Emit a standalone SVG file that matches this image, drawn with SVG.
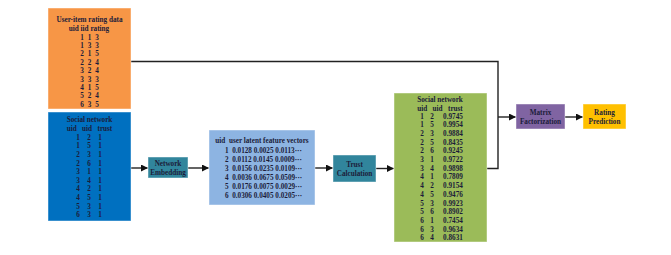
<svg xmlns="http://www.w3.org/2000/svg" width="671" height="255" viewBox="0 0 671 255">
  <style>
    text { font-family: "Liberation Serif", "Times New Roman", serif; font-weight: bold; font-size: 7.2px; fill: #1c1c3a; text-anchor: middle; white-space: pre; }
    .l { text-anchor: start; }
    .box { stroke: #ffffff; stroke-opacity: 0.45; stroke-width: 1; }
    .orange { fill: #F79646; }
    .blue { fill: #0070C0; }
    .sky { fill: #8DB4E2; }
    .green { fill: #9BBB59; }
    .teal { fill: #31859C; }
    .purple { fill: #8064A2; }
    .yellow { fill: #FFC000; }
    .wire { fill: none; stroke: #222222; stroke-width: 1.4; }
  </style>
  <defs>
    <marker id="arrow" markerUnits="userSpaceOnUse" markerWidth="7" markerHeight="7" refX="6.5" refY="3.5" orient="auto">
      <path d="M0,0 L7,3.5 L0,7 Z" fill="#111111"/>
    </marker>
  </defs>
  <rect width="671" height="255" fill="#ffffff"/>

  <!-- connectors -->
  <g id="connectors">
    <path class="wire" d="M131,61.5 H498 V168.5 H487"/>
    <path class="wire" d="M498,117 H515.5" marker-end="url(#arrow)"/>
    <path class="wire" d="M131,168 H147.5" marker-end="url(#arrow)"/>
    <path class="wire" d="M188,168 H208.5" marker-end="url(#arrow)"/>
    <path class="wire" d="M315,168 H332.5" marker-end="url(#arrow)"/>
    <path class="wire" d="M376,168.5 H393.5" marker-end="url(#arrow)"/>
    <path class="wire" d="M565,117 H582.5" marker-end="url(#arrow)"/>
  </g>

  <!-- rating data table -->
  <g id="rating-data">
    <rect class="box orange" x="48" y="8" width="83" height="101"/>
    <text x="89.5" y="21.5">User-item rating data</text>
    <text x="89" y="30.5">uid iid rating</text>
    <g>
      <text x="82" y="39.5">1</text><text x="89.5" y="39.5">1</text><text x="97" y="39.5">3</text>
      <text x="82" y="47.9">1</text><text x="89.5" y="47.9">3</text><text x="97" y="47.9">3</text>
      <text x="82" y="56.3">2</text><text x="89.5" y="56.3">1</text><text x="97" y="56.3">5</text>
      <text x="82" y="64.7">2</text><text x="89.5" y="64.7">2</text><text x="97" y="64.7">4</text>
      <text x="82" y="73.1">3</text><text x="89.5" y="73.1">2</text><text x="97" y="73.1">4</text>
      <text x="82" y="81.5">3</text><text x="89.5" y="81.5">3</text><text x="97" y="81.5">3</text>
      <text x="82" y="89.9">4</text><text x="89.5" y="89.9">1</text><text x="97" y="89.9">5</text>
      <text x="82" y="98.3">5</text><text x="89.5" y="98.3">2</text><text x="97" y="98.3">4</text>
      <text x="82" y="106.7">6</text><text x="89.5" y="106.7">3</text><text x="97" y="106.7">5</text>
    </g>
  </g>

  <!-- binary social network -->
  <g id="social-network">
    <rect class="box blue" x="48" y="112" width="83" height="109"/>
    <text x="89.5" y="121.5">Social network</text>
    <text x="89.5" y="130.5">uid   uid   trust</text>
    <g>
      <text x="78" y="139.5">1</text><text x="89" y="139.5">2</text><text x="100" y="139.5">1</text>
      <text x="78" y="148.2">1</text><text x="89" y="148.2">5</text><text x="100" y="148.2">1</text>
      <text x="78" y="156.8">2</text><text x="89" y="156.8">3</text><text x="100" y="156.8">1</text>
      <text x="78" y="165.5">2</text><text x="89" y="165.5">6</text><text x="100" y="165.5">1</text>
      <text x="78" y="174.1">3</text><text x="89" y="174.1">1</text><text x="100" y="174.1">1</text>
      <text x="78" y="182.8">3</text><text x="89" y="182.8">4</text><text x="100" y="182.8">1</text>
      <text x="78" y="191.4">4</text><text x="89" y="191.4">2</text><text x="100" y="191.4">1</text>
      <text x="78" y="200.1">4</text><text x="89" y="200.1">5</text><text x="100" y="200.1">1</text>
      <text x="78" y="208.7">5</text><text x="89" y="208.7">3</text><text x="100" y="208.7">1</text>
      <text x="78" y="217.4">6</text><text x="89" y="217.4">3</text><text x="100" y="217.4">1</text>
    </g>
  </g>

  <!-- network embedding step -->
  <g id="network-embedding">
    <rect class="box teal" x="148" y="157" width="40" height="21"/>
    <text x="168" y="165.5">Network</text>
    <text x="168" y="175">Embedding</text>
  </g>

  <!-- latent feature vectors -->
  <g id="latent-vectors">
    <rect class="box sky" x="209" y="130" width="106" height="75"/>
    <text x="262" y="142.5">uid  user latent feature vectors</text>
    <text class="l" x="225" y="152.5">1  0.0128 0.0025 0.0113···</text>
    <text class="l" x="225" y="161.5">2  0.0112 0.0145 0.0009···</text>
    <text class="l" x="225" y="170.7">3  0.0156 0.0235 0.0109···</text>
    <text class="l" x="225" y="179.9">4  0.0036 0.0675 0.0509···</text>
    <text class="l" x="225" y="189.1">5  0.0176 0.0075 0.0029···</text>
    <text class="l" x="225" y="198.3">6  0.0306 0.0405 0.0205···</text>
  </g>

  <!-- trust calculation step -->
  <g id="trust-calculation">
    <rect class="box teal" x="333" y="155" width="43" height="27"/>
    <text x="354.5" y="166.5">Trust</text>
    <text x="354.5" y="175.5">Calculation</text>
  </g>

  <!-- weighted social network -->
  <g id="trust-network">
    <rect class="box green" x="394" y="93" width="93" height="149"/>
    <text x="440" y="101.5">Social network</text>
    <text x="440" y="110.5">uid   uid   trust</text>
    <g>
      <text x="422" y="118.5">1</text><text x="432" y="118.5">2</text><text x="453" y="118.5">0.9745</text>
      <text x="422" y="127.2">1</text><text x="432" y="127.2">5</text><text x="453" y="127.2">0.9954</text>
      <text x="422" y="135.9">2</text><text x="432" y="135.9">3</text><text x="453" y="135.9">0.9884</text>
      <text x="422" y="144.6">2</text><text x="432" y="144.6">5</text><text x="453" y="144.6">0.8435</text>
      <text x="422" y="153.3">2</text><text x="432" y="153.3">6</text><text x="453" y="153.3">0.9245</text>
      <text x="422" y="162">3</text><text x="432" y="162">1</text><text x="453" y="162">0.9722</text>
      <text x="422" y="170.7">3</text><text x="432" y="170.7">4</text><text x="453" y="170.7">0.9898</text>
      <text x="422" y="179.4">4</text><text x="432" y="179.4">1</text><text x="453" y="179.4">0.7809</text>
      <text x="422" y="188.1">4</text><text x="432" y="188.1">2</text><text x="453" y="188.1">0.9154</text>
      <text x="422" y="196.8">4</text><text x="432" y="196.8">5</text><text x="453" y="196.8">0.9476</text>
      <text x="422" y="205.5">5</text><text x="432" y="205.5">3</text><text x="453" y="205.5">0.9923</text>
      <text x="422" y="214.2">5</text><text x="432" y="214.2">6</text><text x="453" y="214.2">0.8902</text>
      <text x="422" y="222.9">6</text><text x="432" y="222.9">1</text><text x="453" y="222.9">0.7454</text>
      <text x="422" y="231.6">6</text><text x="432" y="231.6">3</text><text x="453" y="231.6">0.9634</text>
      <text x="422" y="240.3">6</text><text x="432" y="240.3">4</text><text x="453" y="240.3">0.8631</text>
    </g>
  </g>

  <!-- matrix factorization step -->
  <g id="matrix-factorization">
    <rect class="box purple" x="516" y="104" width="49" height="25"/>
    <text x="540.5" y="114.5">Matrix</text>
    <text x="540.5" y="123.5">Factorization</text>
  </g>

  <!-- rating prediction output -->
  <g id="rating-prediction">
    <rect class="box yellow" x="583" y="104" width="43" height="25"/>
    <text x="604.5" y="114.5">Rating</text>
    <text x="604.5" y="123.5">Prediction</text>
  </g>
</svg>
